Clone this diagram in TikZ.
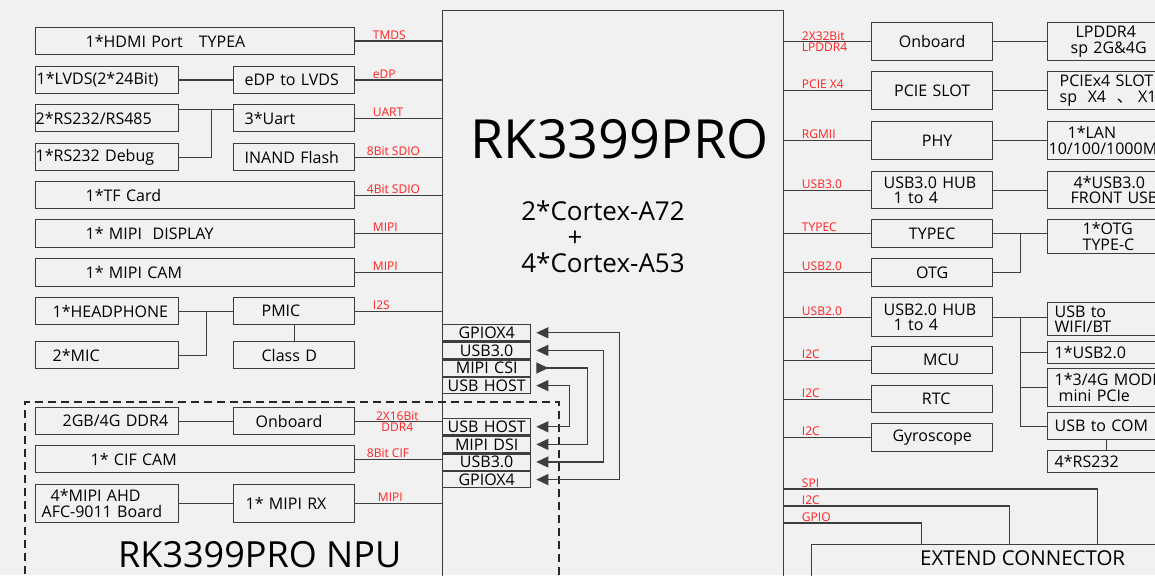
\documentclass[tikz,border=0pt]{standalone}
\usepackage{fontspec}
\setmainfont{Open Sans}
\newfontfamily\cjk{Noto Sans CJK SC}
\usepackage{tikz}
\usetikzlibrary{arrows.meta,positioning,calc}

\definecolor{bgc}{RGB}{240,241,240}
\definecolor{linec}{RGB}{62,62,62}
\definecolor{lblc}{RGB}{255,32,32}

\begin{document}
\begin{tikzpicture}[x=1pt,y=-1pt,
    box/.style={draw=linec, line width=1.3pt, inner sep=0pt, anchor=north west, align=center, font=\fontsize{16}{15.5}\selectfont},
    port/.style={box, text width=88pt, minimum height=16.3pt, font=\fontsize{16}{16}\selectfont},
    lbl/.style={text=lblc, inner sep=0pt, anchor=base west, font=\fontsize{12}{11}\selectfont},
    tag/.style={lbl, at start, yshift=2pt},
    wire/.style={draw=linec, line width=1.3pt},
    tip/.tip={Triangle[length=12pt,width=11pt]},
    bus/.style={wire, tip-tip, shorten <=5pt, shorten >=5pt},
    npu/.style={draw=black!85, line width=2.2pt, dash pattern=on 8pt off 5pt}]
    \useasboundingbox (0,0) rectangle (1155,575);
    \clip (0,0) rectangle (1155,575);
    \fill[bgc] (0,0) rectangle (1155,575);

    % the SoC
    \node[box, minimum width=341pt, minimum height=620pt] (soc) at (442,10) {};
    \node[font=\fontsize{54}{54}\selectfont, anchor=base] (title) at (619.5,158) {RK3399PRO};
    \node[font=\fontsize{26}{26}\selectfont, anchor=base] (cpua) at (603,220) {2*Cortex-A72};
    \node[font=\fontsize{26}{26}\selectfont, anchor=base] (cpuplus) at (575,246) {+};
    \node[font=\fontsize{26}{26}\selectfont, anchor=base] (cpub) at (603,272) {4*Cortex-A53};

    % NPU frame
    \node[npu, anchor=north west, minimum width=534pt, minimum height=250pt, inner sep=0pt] (npu) at (24,401) {};
    \node[anchor=base west, inner sep=0pt, font=\fontsize{36}{36}\selectfont] (npuname) at (118,567) {RK3399PRO NPU};

    % left column
    \node[box, align=left, text width=319pt, minimum height=27pt] (hdmi) at (35,27) {\hspace*{50pt}1*HDMI Port\ \ \ TYPEA};
    \node[box, align=left, text width=143pt, minimum height=27pt] (lvds) at (35,66) {\hspace*{1pt}1*LVDS(2*24Bit)};
    \node[box, align=left, text width=121pt, minimum height=27pt] (edp) at (233,66) {\hspace*{11pt}eDP to LVDS};
    \node[box, align=left, text width=143pt, minimum height=27pt] (rs485) at (35,104) {2*RS232/RS485};
    \node[box, align=left, text width=121pt, minimum height=27pt] (uart) at (233,104) {\hspace*{11pt}3*Uart};
    \node[box, align=left, text width=143pt, minimum height=27pt] (debug) at (35,143) {1*RS232 Debug};
    \node[box, align=left, text width=121pt, minimum height=27pt] (inand) at (233,143) {\hspace*{11pt}INAND Flash};
    \node[box, align=left, text width=319pt, minimum height=27pt] (tf) at (35,181) {\hspace*{50pt}1*TF Card};
    \node[box, align=left, text width=319pt, minimum height=28pt] (dsp) at (35,219) {\hspace*{50pt}1* MIPI\ \ DISPLAY};
    \node[box, align=left, text width=319pt, minimum height=28pt] (cam) at (35,258) {\hspace*{50pt}1* MIPI CAM};
    \node[box, align=left, text width=143pt, minimum height=27pt] (hp) at (35,297) {\hspace*{17pt}1*HEADPHONE};
    \node[box, align=left, text width=121pt, minimum height=27pt] (pmic) at (233,297) {\hspace*{28pt}PMIC};
    \node[box, align=left, text width=143pt, minimum height=27pt] (mic) at (35,341) {\hspace*{17pt}2*MIC};
    \node[box, align=left, text width=121pt, minimum height=27pt] (classd) at (233,341) {\hspace*{28pt}Class D};

    \node[box, align=left, text width=143pt, minimum height=27pt] (ddr) at (35,407) {\hspace*{27pt}2GB/4G DDR4};
    \node[box, align=left, text width=121pt, minimum height=27pt] (npuob) at (233,407) {\hspace*{22pt}Onboard};
    \node[box, align=left, text width=319pt, minimum height=27pt] (cif) at (35,445) {\hspace*{55pt}1* CIF CAM};
    \node[box, align=left, text width=143pt, minimum height=38pt] (ahd) at (35,484) {\hspace*{15pt}4*MIPI AHD\\\hspace*{6pt}AFC-9011 Board};
    \node[box, align=left, text width=121pt, minimum height=38pt] (mipirx) at (233,484) {\hspace*{12pt}1* MIPI RX};

    \draw[wire] (lvds) -- (edp);
    \coordinate (rsj) at ([yshift=8.5pt]$(rs485.east)!0.6!(uart.west)$);
    \draw[wire] (rs485.east |- rsj) -- (uart.west |- rsj);
    \draw[wire] (debug.east) -| (rsj);
    \draw[wire] (hp) -- (pmic);
    \draw[wire] (mic.east) -| ($(hp.east)!0.5!(pmic.west)$);
    \draw[wire] (pmic) -- (classd);
    \draw[wire] (ddr) -- (npuob);
    \draw[wire] (ahd) -- (mipirx);

    \draw[wire] (hdmi.east) -- (hdmi.east -| soc.west) node[tag, xshift=17pt] (l-tmds) {TMDS};
    \draw[wire] (edp.east) -- (edp.east -| soc.west) node[tag, xshift=17pt] (l-edp) {eDP};
    \draw[wire] (uart.east) -- (uart.east -| soc.west) node[tag, xshift=17pt] (l-uart) {UART};
    \draw[wire] (inand.east) -- (inand.east -| soc.west) node[tag, xshift=11pt] (l-sdio8) {8Bit SDIO};
    \draw[wire] (tf.east) -- (tf.east -| soc.west) node[tag, xshift=11pt] (l-sdio4) {4Bit SDIO};
    \draw[wire] (dsp.east) -- (dsp.east -| soc.west) node[tag, xshift=17pt] (l-dsp) {MIPI};
    \draw[wire] (cam.east) -- (cam.east -| soc.west) node[tag, xshift=17pt] (l-cam) {MIPI};
    \draw[wire] (pmic.east) -- (pmic.east -| soc.west) node[tag, xshift=17pt] (l-i2s) {I2S};
    \draw[wire] (npuob.east) -- (npuob.east -| soc.west);
    \node[lbl, anchor=center, align=center] (l-ddr4) at ([xshift=42pt]npuob.east) {2X16Bit\\DDR4};
    \draw[wire] (cif.east) -- (cif.east -| soc.west) node[tag, xshift=11pt] (l-cif) {8Bit CIF};
    \draw[wire] (mipirx.east) -- (mipirx.east -| soc.west) node[tag, xshift=22pt] (l-rx) {MIPI};

    % SoC / NPU links
    \node[port] (gpioa) at (442,324) {GPIOX4};
    \node[port, below=0pt of gpioa] (usba) {USB3.0};
    \node[port, below=0pt of usba] (csi) {MIPI CSI};
    \node[port, below=0pt of csi] (hosta) {USB HOST};
    \node[port] (hostb) at (442,418) {USB HOST};
    \node[port, below=0pt of hostb] (dsi) {MIPI DSI};
    \node[port, below=0pt of dsi] (usbb) {USB3.0};
    \node[port, below=0pt of usbb] (gpiob) {GPIOX4};

    \draw[bus] (gpiob.east) -- ++(88,0) |- (gpioa.east);
    \draw[bus] (usbb.east) -- ++(72,0) |- (usba.east);
    \draw[bus, {tip[reversed]}-tip] (csi.east) -- ++(56,0) |- (dsi.east);
    \draw[bus] (hostb.east) -- ++(38,0) |- (hosta.east);

    % right column
    \node[box, text width=121pt, minimum height=38pt] (rob) at (871,22) {Onboard};
    \node[box, align=left, text width=135pt, minimum height=38pt] (lpddr) at (1047,22) {\hspace*{28pt}LPDDR4\\\hspace*{23pt}sp 2G\&4G};
    \node[box, text width=121pt, minimum height=38pt] (pcie) at (871,71) {PCIE SLOT};
    \node[box, align=left, text width=135pt, minimum height=38pt] (slot) at (1047,71) {\hspace*{12pt}PCIEx4 SLOT\\\hspace*{12pt}sp\ \ X4\ \ {\cjk 、}\ X1};
    \node[box, text width=121pt, minimum height=38pt] (phy) at (871,121) {\hspace*{10pt}PHY};
    \node[box, align=left, text width=135pt, minimum height=38pt] (lan) at (1047,121) {\hspace*{20pt}1*LAN\\\hspace*{1pt}10/100/1000M};
    \node[box, align=left, text width=121pt, minimum height=37pt] (hub3) at (871,171) {\hspace*{12pt}USB3.0 HUB\\\hspace*{22pt}1 to 4};
    \node[box, align=left, text width=135pt, minimum height=37pt] (front) at (1047,171) {\hspace*{26pt}4*USB3.0\\\hspace*{23pt}FRONT USB};
    \node[box, text width=121pt, minimum height=28pt] (typec) at (871,219) {TYPEC};
    \node[box, align=left, text width=135pt, minimum height=34pt] (otgc) at (1047,219) {\hspace*{35pt}1*OTG\\\hspace*{35pt}TYPE-C};
    \node[box, text width=121pt, minimum height=28pt] (otg) at (871,258) {OTG};
    \node[box, align=left, text width=121pt, minimum height=39pt] (hub2) at (871,297) {\hspace*{12pt}USB2.0 HUB\\\hspace*{22pt}1 to 4};
    \node[box, align=left, text width=135pt, minimum height=33pt] (wifi) at (1047,302) {\hspace*{7pt}USB to\\\hspace*{7pt}WIFI/BT};
    \node[box, align=left, text width=135pt, minimum height=22pt] (usb2) at (1047,341) {\hspace*{7pt}1*USB2.0};
    \node[box, align=left, text width=135pt, minimum height=38pt] (modem) at (1047,368) {\hspace*{7pt}1*3/4G MODEM\\\hspace*{11pt}mini PCIe};
    \node[box, align=left, text width=135pt, minimum height=27pt] (com) at (1047,412) {\hspace*{7pt}USB to COM};
    \node[box, align=left, text width=135pt, minimum height=22pt] (rs232) at (1047,450) {\hspace*{7pt}4*RS232};
    \node[box, text width=121pt, minimum height=27pt] (mcu) at (871,346) {\hspace*{18pt}MCU};
    \node[box, text width=121pt, minimum height=27pt] (rtc) at (871,385) {\hspace*{8pt}RTC};
    \node[box, text width=121pt, minimum height=28pt] (gyro) at (871,423) {Gyroscope};
    \node[box, minimum width=422pt, text height=21pt, text depth=40pt, font=\fontsize{20.5}{20.5}\selectfont] (ext) at (811,544) {EXTEND CONNECTOR};

    \draw[wire] (rob) -- (lpddr.west |- rob);
    \draw[wire] (pcie) -- (slot.west |- pcie);
    \draw[wire] (phy) -- (lan.west |- phy);
    \draw[wire] (hub3) -- (front.west |- hub3);
    \draw[wire] (typec.east) -- (typec.east -| otgc.west);
    \coordinate (otgj) at ($(typec.east)!0.5!(typec.east -| otgc.west)$);
    \draw[wire] (otg.east) -| (otgj);
    \draw[wire] (hub2.east) -- (hub2.east -| wifi.west);
    \coordinate (hubj) at ($(hub2.east)!0.5!(hub2.east -| wifi.west)$);
    \draw[wire] (hubj) |- (com.west);
    \draw[wire] (hubj |- usb2.west) -- (usb2.west);
    \draw[wire] (hubj |- modem.west) -- (modem.west);
    \draw[wire] ([xshift=-8.5pt]com.south) -- ([xshift=-8.5pt]rs232.north);

    \draw[wire] (soc.east |- rob.west) -- (rob.west) node[lbl, at start, anchor=west, align=left, xshift=17pt] (r-ddr) {2X32Bit\\LPDDR4};
    \draw[wire] (soc.east |- pcie.west) -- (pcie.west) node[tag, xshift=17pt] (r-pcie) {PCIE X4};
    \draw[wire] (soc.east |- phy.west) -- (phy.west) node[tag, xshift=17pt] (r-phy) {RGMII};
    \draw[wire] (soc.east |- hub3.west) -- (hub3.west) node[tag, xshift=17pt] (r-usb3) {USB3.0};
    \draw[wire] (soc.east |- typec.west) -- (typec.west) node[tag, xshift=17pt] (r-typec) {TYPEC};
    \draw[wire] (soc.east |- otg.west) -- (otg.west) node[tag, xshift=17pt] (r-otg) {USB2.0};
    \draw[wire] (soc.east |- hub2.west) -- (hub2.west) node[tag, xshift=17pt] (r-hub2) {USB2.0};
    \draw[wire] (soc.east |- mcu.west) -- (mcu.west) node[tag, xshift=17pt] (r-mcu) {I2C};
    \draw[wire] (soc.east |- rtc.west) -- (rtc.west) node[tag, xshift=17pt] (r-rtc) {I2C};
    \draw[wire] (soc.east |- gyro.west) -- (gyro.west) node[tag, xshift=17pt] (r-gyro) {I2C};
    \draw[wire] (soc.east |- 0,489) -| ([xshift=75pt]ext.north) node[tag, xshift=17pt] (r-spi) {SPI};
    \draw[wire] (soc.east |- 0,506) -| ([xshift=-13pt]ext.north) node[tag, xshift=17pt] (r-i2c) {I2C};
    \draw[wire] (soc.east |- 0,523) -| ([xshift=-101pt]ext.north) node[tag, xshift=17pt] (r-gpio) {GPIO};
\end{tikzpicture}
\end{document}
